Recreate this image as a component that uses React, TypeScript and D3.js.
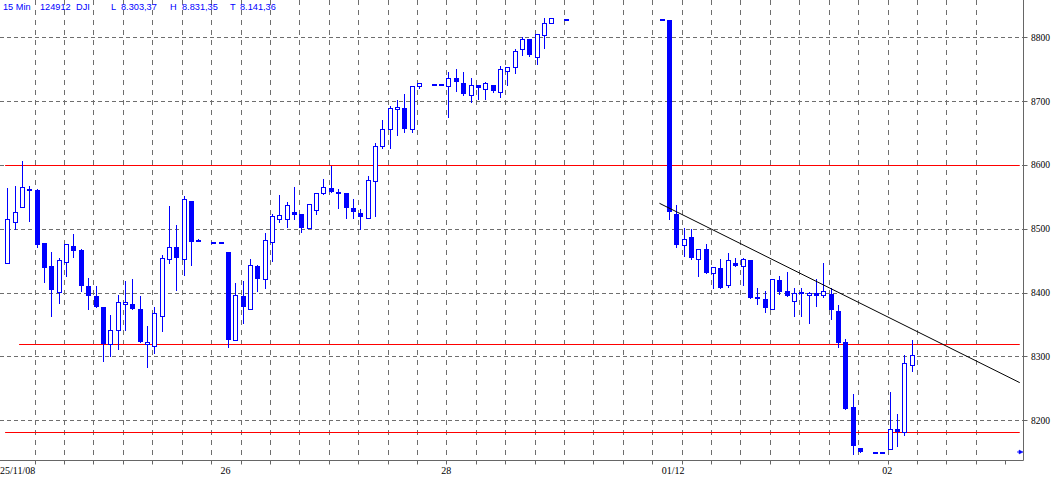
import React from 'react';
import * as d3 from 'd3';

const W = 1054;
const H = 478;

// day labels sit at the first 15-min slot of each session
const dayLabels = ['25/11/08', '26', '28', '01/12', '02'];
const dayStartSlots = [0, 30, 60, 90, 120];
const priceTicks = [8200, 8300, 8400, 8500, 8600, 8700, 8800];

// [slot, open, high, low, close]
type Bar = [number, number, number, number, number];

const nov25: Bar[] = [
  [0, 8446, 8564, 8446, 8516],
  [1, 8510, 8567, 8499, 8527],
  [2, 8534, 8606, 8534, 8566],
  [3, 8563, 8567, 8513, 8561],
  [4, 8561, 8563, 8472, 8475],
  [5, 8477, 8477, 8417, 8439],
  [6, 8442, 8463, 8364, 8404],
  [7, 8401, 8455, 8384, 8451],
  [8, 8448, 8476, 8426, 8476],
  [9, 8473, 8492, 8456, 8466],
  [10, 8467, 8469, 8403, 8411],
  [11, 8410, 8423, 8374, 8394],
  [12, 8395, 8410, 8378, 8378],
  [13, 8377, 8377, 8293, 8320],
  [14, 8320, 8365, 8300, 8341],
  [15, 8341, 8396, 8312, 8385],
  [16, 8382, 8418, 8341, 8385],
  [17, 8382, 8421, 8375, 8375],
  [18, 8374, 8395, 8322, 8322],
  [19, 8319, 8348, 8283, 8322],
  [20, 8317, 8377, 8306, 8368],
  [21, 8364, 8459, 8340, 8454],
  [22, 8452, 8536, 8447, 8472],
  [23, 8472, 8506, 8404, 8455],
  [24, 8452, 8551, 8428, 8546],
  [25, 8543, 8543, 8443, 8480],
  [26, 8483, 8484, 8481, 8481],
  [28, 8480, 8480, 8480, 8480],
  [29, 8480, 8480, 8480, 8480],
];

const nov26: Bar[] = [
  [30, 8464, 8464, 8315, 8326],
  [31, 8326, 8415, 8326, 8396],
  [32, 8395, 8418, 8353, 8378],
  [33, 8375, 8453, 8375, 8443],
  [34, 8442, 8443, 8403, 8422],
  [35, 8421, 8493, 8407, 8482],
  [36, 8480, 8523, 8450, 8520],
  [37, 8516, 8553, 8511, 8521],
  [38, 8515, 8542, 8503, 8537],
  [39, 8526, 8566, 8516, 8521],
  [40, 8523, 8523, 8495, 8502],
  [41, 8501, 8539, 8501, 8539],
  [42, 8530, 8556, 8524, 8556],
  [43, 8556, 8578, 8554, 8565],
  [44, 8564, 8599, 8557, 8557],
  [45, 8557, 8563, 8533, 8554],
  [46, 8556, 8556, 8517, 8533],
  [47, 8532, 8546, 8517, 8527],
  [48, 8525, 8531, 8499, 8519],
  [49, 8517, 8583, 8517, 8577],
  [50, 8575, 8634, 8520, 8630],
  [51, 8629, 8670, 8627, 8656],
  [52, 8656, 8693, 8627, 8689],
  [53, 8688, 8702, 8647, 8691],
  [54, 8690, 8711, 8652, 8657],
  [55, 8657, 8723, 8651, 8723],
  [56, 8723, 8728, 8721, 8728],
  [58, 8727, 8727, 8727, 8727],
  [59, 8727, 8727, 8727, 8727],
];

const nov28: Bar[] = [
  [60, 8724, 8746, 8675, 8737],
  [61, 8737, 8750, 8716, 8730],
  [62, 8728, 8745, 8710, 8712],
  [63, 8709, 8737, 8698, 8725],
  [64, 8725, 8725, 8703, 8720],
  [65, 8719, 8730, 8704, 8728],
  [66, 8726, 8726, 8714, 8716],
  [67, 8715, 8755, 8707, 8750],
  [68, 8748, 8753, 8726, 8753],
  [69, 8753, 8782, 8744, 8778],
  [70, 8781, 8800, 8773, 8798],
  [71, 8797, 8797, 8770, 8773],
  [72, 8769, 8805, 8758, 8805],
  [73, 8804, 8830, 8783, 8822],
  [74, 8822, 8830, 8822, 8830],
  [76, 8829, 8829, 8829, 8829],
  [89, 8829, 8829, 8829, 8829],
];

const dec01: Bar[] = [
  [90, 8827, 8827, 8516, 8527],
  [91, 8523, 8537, 8471, 8474],
  [92, 8474, 8501, 8458, 8484],
  [93, 8487, 8500, 8452, 8455],
  [94, 8452, 8469, 8426, 8469],
  [95, 8468, 8476, 8431, 8431],
  [96, 8430, 8440, 8408, 8440],
  [97, 8439, 8452, 8408, 8408],
  [98, 8412, 8462, 8409, 8451],
  [99, 8447, 8455, 8441, 8442],
  [100, 8441, 8455, 8412, 8452],
  [101, 8451, 8451, 8392, 8392],
  [102, 8393, 8408, 8382, 8391],
  [103, 8390, 8402, 8369, 8376],
  [104, 8374, 8421, 8374, 8421],
  [105, 8420, 8426, 8398, 8401],
  [106, 8402, 8432, 8394, 8394],
  [107, 8387, 8407, 8364, 8400],
  [108, 8401, 8407, 8363, 8398],
  [109, 8396, 8401, 8352, 8400],
  [110, 8399, 8421, 8379, 8395],
  [111, 8397, 8447, 8393, 8402],
  [112, 8398, 8408, 8358, 8373],
  [113, 8371, 8380, 8315, 8321],
  [114, 8323, 8328, 8218, 8218],
  [115, 8221, 8241, 8147, 8159],
  [116, 8156, 8156, 8151, 8151],
  [118, 8151, 8151, 8151, 8151],
  [119, 8151, 8151, 8151, 8151],
];

const dec02: Bar[] = [
  [120, 8155, 8244, 8155, 8187],
  [121, 8186, 8210, 8160, 8181],
  [122, 8181, 8302, 8177, 8289],
  [123, 8287, 8326, 8278, 8303],
];

const candles: Bar[] = [...nov25, ...nov26, ...nov28, ...dec01, ...dec02];

// horizontal support/resistance lines (red) and the falling trend line
const levelPrices = [8600, 8320, 8181];
const levelFromSlots = [-0.3, 1.6, -0.3];
const levelToSlot = 137.7;
const trendSlots = [88.7, 137.7];
const trendPrices = [8540, 8259];
const lastMarker = { slot: 137.8, price: 8150 };

const headerTexts = ['15 Min', '124912', 'DJI', 'L', '8.303,37', 'H', '8.831,35', 'T', '8.141,36'];
const headerX = [3, 40, 76, 111, 121, 170, 182, 230, 240];

const BLUE = '#0000ff';
const GRID = '#6e6e6e';

const App: React.FC = () => {
  const axisX = 1023.5;
  const axisY = 460.5;

  const x = d3.scaleLinear().domain([0, 1]).range([7.3, 7.3 + 7.3525]);
  const y = d3.scaleLinear().domain([8137.8, 8858.5]).range([460, 0]);

  const gridSlots = d3.range(34).map(k => 3.72 + 4 * k);
  const snap = (v: number) => Math.round(v) + 0.5;

  const trend = d3.line<number>()
    .x((_, i) => x(trendSlots[i]))
    .y(d => y(d));

  return (
    <svg
      width={W}
      height={H}
      style={{ position: 'absolute', left: 0, top: 0, background: '#fff', display: 'block' }}
    >
      <rect x={0} y={0} width={W} height={H} fill="#fff" />

      {/* horizontal dashed grid */}
      {priceTicks.map(p => (
        <line key={'hg' + p} x1={0} x2={axisX} y1={snap(y(p))} y2={snap(y(p))}
          stroke={GRID} strokeWidth={1} strokeDasharray="4,3" />
      ))}

      {/* vertical dashed grid */}
      {gridSlots.slice(0, 33).map((s, k) => (
        <line key={'vg' + k} x1={snap(x(s))} x2={snap(x(s))} y1={0} y2={axisY}
          stroke={GRID} strokeWidth={1} strokeDasharray="5,5" />
      ))}

      {/* red levels */}
      {levelPrices.map((p, i) => (
        <line key={'lv' + p} x1={x(levelFromSlots[i])} x2={x(levelToSlot)}
          y1={snap(y(p))} y2={snap(y(p))} stroke="#ff0000" strokeWidth={1} />
      ))}

      {/* candles */}
      {candles.map(([slot, o, h, l, c]) => {
        const cx = Math.round(x(slot));
        const top = Math.round(y(Math.max(o, c)));
        const bot = Math.round(y(Math.min(o, c)));
        const up = c > o;
        return (
          <g key={'c' + slot}>
            <line x1={cx + 0.5} x2={cx + 0.5} y1={Math.round(y(h))} y2={Math.round(y(l)) + 1}
              stroke={BLUE} strokeWidth={1} />
            {up ? (
              <rect x={cx - 1.5} y={top + 0.5} width={4} height={Math.max(1, bot - top)}
                fill="#fff" stroke={BLUE} strokeWidth={1} />
            ) : (
              <rect x={cx - 2} y={top} width={5} height={Math.max(2, bot - top)} fill={BLUE} />
            )}
          </g>
        );
      })}

      {/* trend line */}
      <path d={trend(trendPrices) || ''} fill="none" stroke="#000" strokeWidth={1} />

      {/* axes */}
      <line x1={axisX} x2={axisX} y1={0} y2={axisY} stroke="#666" strokeWidth={1} />
      <line x1={0} x2={axisX} y1={axisY} y2={axisY} stroke="#666" strokeWidth={1} />

      {priceTicks.map(p => (
        <g key={'yt' + p}>
          <line x1={axisX} x2={axisX + 4} y1={snap(y(p))} y2={snap(y(p))} stroke="#666" />
          <text x={1031} y={y(p) + 3.5} fontFamily="'Liberation Serif', serif" fontSize={9.5} fill="#000">
            {p}
          </text>
        </g>
      ))}

      {gridSlots.map((s, k) => (
        <line key={'xt' + k} x1={snap(x(s))} x2={snap(x(s))} y1={axisY} y2={axisY + 4} stroke="#666" />
      ))}

      {dayLabels.map((d, i) => (
        <text key={'dl' + d} x={x(dayStartSlots[i]) - 7.3} y={473.5}
          fontFamily="'Liberation Serif', serif" fontSize={10} fill="#000">
          {d}
        </text>
      ))}

      {/* last-price marker */}
      <path
        d={`M${Math.round(x(lastMarker.slot)) - 3},${Math.round(y(lastMarker.price))} h2 v-2 l4,2 l-4,2 v-2 z`}
        fill={BLUE} stroke={BLUE} strokeWidth={0.5}
      />

      {/* header */}
      {headerTexts.map((t, i) => (
        <text key={'h' + i} x={headerX[i]} y={9.5} fontFamily="'Liberation Sans', Arial, sans-serif"
          fontSize={9.2} fill={BLUE}>
          {t}
        </text>
      ))}
    </svg>
  );
};

export default App;
